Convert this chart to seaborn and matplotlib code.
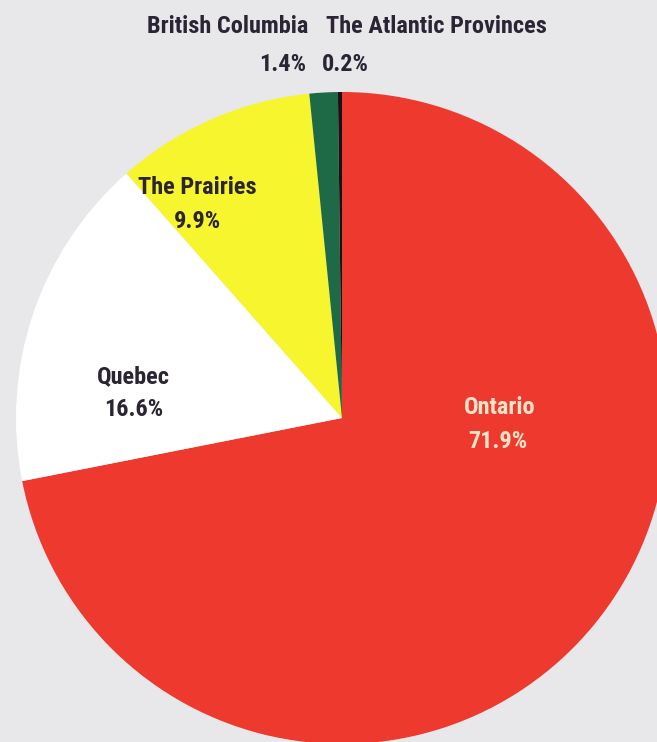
import matplotlib
matplotlib.use("Agg")
import matplotlib.pyplot as plt
import seaborn as sns

# ---- data ----
regions = ["Ontario", "Quebec", "The Prairies", "British Columbia", "The Atlantic Provinces"]
shares = [71.9, 16.6, 9.9, 1.4, 0.2]
pct_labels = ["71.9%", "16.6%", "9.9%", "1.4%", "0.2%"]
colors = ["#EE3A2E", "#FFFFFF", "#F7F52E", "#1F6A46", "#141418"]

sns.set_theme(style="white")
plt.rcParams["font.family"] = ["Roboto Condensed", "DejaVu Sans"]

W, H = 657, 742
fig = plt.figure(figsize=(W / 100, H / 100), dpi=100)
bg = "#E8E8EA"
fig.patch.set_facecolor(bg)
ax = fig.add_axes([0, 0, 1, 1])
ax.set_facecolor(bg)

# pie geometry in pixels
cx, cy, R = 342, 418, 326

def px(x, y):
    return (x - cx) / R, (cy - y) / R

ax.pie(shares, colors=colors, startangle=90, counterclock=False,
       radius=1.0, center=(0, 0), wedgeprops=dict(linewidth=0))

ax.set_xlim(-cx / R, (W - cx) / R)
ax.set_ylim(-(H - cy) / R, cy / R)
ax.set_aspect("auto")
ax.axis("off")

dark = "#2A2434"
light = "#F7E4C8"
fs = 17.5

# label layout (pixel positions of name and value lines)
layout = {
    "Ontario": ((500, 408), (498, 442), light),
    "Quebec": ((133, 377), (134, 410), dark),
    "The Prairies": ((197, 188), (197, 222), dark),
    "British Columbia": ((228, 27), (283, 65), dark),
    "The Atlantic Provinces": ((436, 27), (345, 65), dark),
}
for name, pct in zip(regions, pct_labels):
    (nx, ny), (vx, vy), col = layout[name]
    ax.text(*px(nx, ny), name, ha="center", va="center", fontsize=fs,
            fontweight="bold", color=col)
    ax.text(*px(vx, vy), pct, ha="center", va="center", fontsize=fs,
            fontweight="bold", color=col)

fig.savefig("out.png", dpi=100, facecolor=bg)
